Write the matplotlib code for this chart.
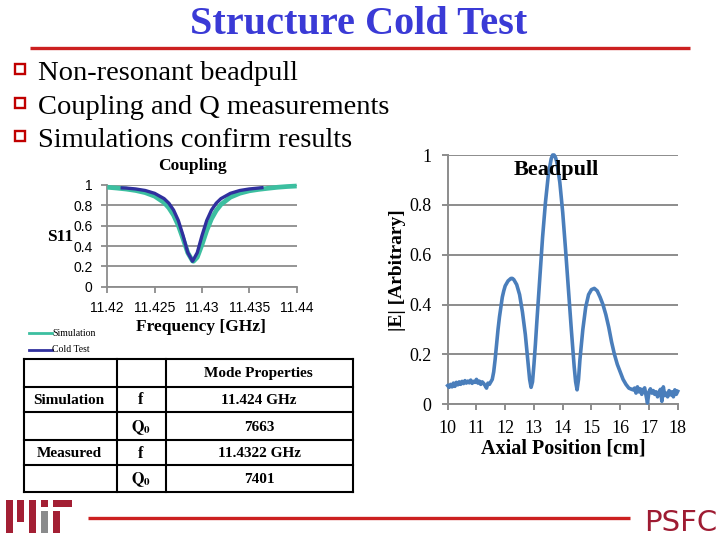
import numpy as np
import matplotlib
matplotlib.use("Agg")
import matplotlib.pyplot as plt
from matplotlib.lines import Line2D
from matplotlib.patches import Rectangle

plt.rcParams['mathtext.fontset'] = 'stix'

# ---------------- data ----------------
title = "Structure Cold Test"
bullets = ["Non-resonant beadpull", "Coupling and Q measurements", "Simulations confirm results"]

# Coupling (S11 vs frequency)
sim_freq = [11.420, 11.421, 11.422, 11.423, 11.424, 11.425, 11.426, 11.4265, 11.427, 11.4275,
            11.428, 11.4285, 11.429, 11.4291, 11.4295, 11.430, 11.4305, 11.431, 11.4315, 11.432,
            11.433, 11.434, 11.435, 11.436, 11.437, 11.438, 11.439, 11.440]
sim_s11 = [0.978, 0.970, 0.960, 0.946, 0.925, 0.890, 0.827, 0.775, 0.703, 0.602,
           0.471, 0.333, 0.253, 0.250, 0.289, 0.414, 0.553, 0.667, 0.749, 0.808,
           0.880, 0.919, 0.943, 0.957, 0.968, 0.978, 0.985, 0.990]
cold_freq = [11.4214, 11.422, 11.423, 11.424, 11.425, 11.426, 11.4265, 11.427, 11.4275, 11.428,
             11.4285, 11.429, 11.4295, 11.430, 11.4305, 11.431, 11.4315, 11.432, 11.433, 11.434,
             11.435, 11.4365]
cold_s11 = [0.972, 0.970, 0.961, 0.946, 0.918, 0.866, 0.821, 0.753, 0.651, 0.503,
            0.335, 0.250, 0.335, 0.503, 0.651, 0.753, 0.821, 0.866, 0.918, 0.946,
            0.961, 0.975]
freq_ticks = [11.42, 11.425, 11.43, 11.435, 11.44]
freq_tick_labels = ["11.42", "11.425", "11.43", "11.435", "11.44"]
s11_ticks = [0, 0.2, 0.4, 0.6, 0.8, 1.0]
s11_tick_labels = ["0", "0.2", "0.4", "0.6", "0.8", "1"]
legend_labels = ["Simulation", "Cold Test"]

# Beadpull (|E| vs axial position)
pos_cm = [10.00, 10.05, 10.10, 10.15, 10.20, 10.25, 10.30, 10.35, 10.40, 10.45,
          10.50, 10.55, 10.60, 10.65, 10.70, 10.75, 10.80, 10.85, 10.90, 10.95,
          11.00, 11.05, 11.10, 11.15, 11.20, 11.25, 11.30, 11.35, 11.40, 11.45,
          11.50, 11.55, 11.60, 11.65, 11.70, 11.75, 11.80, 11.85, 11.90, 11.95,
          12.00, 12.10, 12.20, 12.25, 12.30, 12.40, 12.50, 12.60, 12.70, 12.75,
          12.80, 12.85, 12.90, 12.95, 13.00, 13.05, 13.10, 13.20, 13.30, 13.40,
          13.50, 13.60, 13.65, 13.70, 13.75, 13.80, 13.90, 14.00, 14.10, 14.20,
          14.30, 14.40, 14.45, 14.50, 14.55, 14.60, 14.70, 14.80, 14.90, 15.00,
          15.10, 15.20, 15.30, 15.40, 15.50, 15.60, 15.70, 15.80, 15.90, 16.00,
          16.10, 16.20, 16.30, 16.40, 16.45, 16.50, 16.55, 16.60, 16.65, 16.70,
          16.75, 16.80, 16.85, 16.90, 16.95, 17.00, 17.05, 17.10, 17.15, 17.20,
          17.25, 17.30, 17.35, 17.40, 17.45, 17.50, 17.55, 17.60, 17.65, 17.70,
          17.75, 17.80, 17.85, 17.90, 17.95, 18.00]
e_field = [0.075, 0.068, 0.080, 0.070, 0.085, 0.072, 0.088, 0.078, 0.090, 0.080,
           0.092, 0.083, 0.095, 0.085, 0.093, 0.086, 0.097, 0.084, 0.092, 0.088,
           0.100, 0.085, 0.093, 0.080, 0.090, 0.084, 0.075, 0.065, 0.085, 0.080,
           0.090, 0.100, 0.130, 0.180, 0.240, 0.300, 0.350, 0.390, 0.430, 0.455,
           0.475, 0.495, 0.505, 0.505, 0.500, 0.480, 0.440, 0.370, 0.280, 0.220,
           0.160, 0.100, 0.068, 0.090, 0.160, 0.240, 0.330, 0.500, 0.670, 0.810,
           0.920, 0.985, 1.000, 1.000, 0.990, 0.970, 0.890, 0.770, 0.620, 0.460,
           0.300, 0.150, 0.090, 0.058, 0.100, 0.180, 0.300, 0.390, 0.440, 0.460,
           0.465, 0.455, 0.430, 0.400, 0.360, 0.310, 0.250, 0.200, 0.160, 0.130,
           0.100, 0.080, 0.065, 0.060, 0.058, 0.065, 0.045, 0.070, 0.050, 0.062,
           0.040, 0.058, 0.066, 0.035, 0.005, 0.050, 0.062, 0.045, 0.055, 0.040,
           0.050, 0.030, 0.048, 0.060, 0.012, 0.070, 0.035, 0.045, 0.030, 0.055,
           0.038, 0.050, 0.030, 0.058, 0.040, 0.052]
pos_ticks = [10, 11, 12, 13, 14, 15, 16, 17, 18]
e_ticks = [0, 0.2, 0.4, 0.6, 0.8, 1.0]
e_tick_labels = ["0", "0.2", "0.4", "0.6", "0.8", "1"]

# Mode properties table
table_header = "Mode Properties"
table_col0 = ["Simulation", "", "Measured", ""]
table_col1 = ["f", r"$\mathbf{Q_0}$", "f", r"$\mathbf{Q_0}$"]
table_col2 = ["11.424 GHz", "7663", "11.4322 GHz", "7401"]

# ---------------- figure ----------------
W, H = 720, 540
fig = plt.figure(figsize=(7.2, 5.4), dpi=100)
fig.patch.set_facecolor('white')

def fx(px):
    return px / W

def fy(py):
    return 1 - py / H

SERIF = ['Liberation Serif', 'DejaVu Serif']
SANS = ['Liberation Sans', 'DejaVu Sans']
GRAY = '#8c8c8c'

def fline(x0, x1, y0, y1, **kw):
    fig.add_artist(Line2D([fx(x0), fx(x1)], [fy(y0), fy(y1)], transform=fig.transFigure, **kw))

# Title
fig.text(fx(359), fy(34), title, ha='center', va='baseline', fontsize=29,
         fontweight='bold', family=SERIF, color='#3a3ad6')
fline(30, 690, 48, 48, color='#cc2020', lw=2.4, solid_capstyle='butt')

# Bullets
for i, b in enumerate(bullets):
    yc = [69, 102.5, 136][i]
    fig.add_artist(Rectangle((fx(14.5), fy(yc + 5)), 10.5 / W, 10 / H, transform=fig.transFigure,
                             fill=False, edgecolor='#c00000', lw=1.7))
    fig.text(fx(38), fy(yc + 11), b, ha='left', va='baseline', fontsize=20.5,
             family=SERIF, color='black')

# ---------------- Coupling chart ----------------
ax1 = fig.add_axes([fx(107.3), fy(286.7), (296.7 - 107.3) / W, (286.7 - 185) / H])
ax1.plot(sim_freq, sim_s11, color='#3cbfa0', lw=3.4, solid_capstyle='butt', zorder=3, clip_on=False)
ax1.plot(cold_freq, cold_s11, color='#30309e', lw=2.4, solid_capstyle='butt', zorder=4, clip_on=False)
ax1.set_xlim(11.42, 11.44)
ax1.set_ylim(0, 1)
ax1.set_xticks(freq_ticks)
ax1.set_xticklabels(freq_tick_labels, family=SANS, fontsize=10)
ax1.set_yticks(s11_ticks)
ax1.set_yticklabels(s11_tick_labels, family=SANS, fontsize=10)
ax1.yaxis.grid(True, color=GRAY, lw=1.3)
ax1.set_axisbelow(True)
for s in ['top', 'right']:
    ax1.spines[s].set_visible(False)
for s in ['left', 'bottom']:
    ax1.spines[s].set_color(GRAY)
    ax1.spines[s].set_linewidth(1.3)
ax1.tick_params(axis='both', color=GRAY, width=1.3, length=4.5, pad=6)
fig.text(fx(192), fy(166), "Coupling", ha='center', va='center', fontsize=12.5,
         fontweight='bold', family=SERIF)
fig.text(fx(47), fy(237), "S11", ha='left', va='center', fontsize=12.5,
         fontweight='bold', family=SERIF)
fig.text(fx(201), fy(327), "Frequency [GHz]", ha='center', va='center', fontsize=12.5,
         fontweight='bold', family=SERIF)
# legend
for yc, lab, col in [(333, legend_labels[0], '#3cbfa0'), (350, legend_labels[1], '#30309e')]:
    fline(29, 52, yc, yc, color=col, lw=2.0)
    fig.text(fx(52), fy(yc), lab, ha='left', va='center', fontsize=7, family=SERIF)

# ---------------- Table ----------------
col_x = [24, 116.7, 165.7, 353]
row_y = [359, 386.7, 412.3, 440, 465, 491.7]
for yv in row_y:
    fline(col_x[0], col_x[-1], yv, yv, color='black', lw=1.5)
for xv in col_x:
    fline(xv, xv, row_y[0], row_y[-1], color='black', lw=1.5)
fig.text(fx(258), fy(374), table_header, ha='center', va='center', fontsize=11,
         fontweight='bold', family=SERIF)
for i in range(4):
    yc = (row_y[i + 1] + row_y[i + 2]) / 2 + 1
    fig.text(fx(69), fy(yc), table_col0[i], ha='center', va='center', fontsize=11,
             fontweight='bold', family=SERIF)
    fig.text(fx(141), fy(yc), table_col1[i], ha='center', va='center', fontsize=11.5,
             fontweight='bold', family=SERIF)
    fig.text(fx(259), fy(yc), table_col2[i], ha='center', va='center', fontsize=11,
             fontweight='bold', family=SERIF)

# ---------------- Beadpull chart ----------------
ax2 = fig.add_axes([fx(447.7), fy(404.3), (677.7 - 447.7) / W, (404.3 - 155) / H])
ax2.plot(pos_cm, e_field, color='#4a7ebb', lw=2.6, zorder=3, clip_on=False)
ax2.set_xlim(10, 18)
ax2.set_ylim(0, 1)
ax2.set_xticks(pos_ticks)
ax2.set_xticklabels([str(t) for t in pos_ticks], family=SERIF, fontsize=13)
ax2.set_yticks(e_ticks)
ax2.set_yticklabels(e_tick_labels, family=SERIF, fontsize=13)
ax2.yaxis.grid(True, color=GRAY, lw=1.4)
ax2.set_axisbelow(True)
for s in ['top', 'right']:
    ax2.spines[s].set_visible(False)
for s in ['left', 'bottom']:
    ax2.spines[s].set_color(GRAY)
    ax2.spines[s].set_linewidth(1.4)
ax2.tick_params(axis='both', color=GRAY, width=1.4, length=4.5, pad=7)
fig.text(fx(556), fy(170), "Beadpull", ha='center', va='center', fontsize=16,
         fontweight='bold', family=SERIF)
fig.text(fx(398), fy(270), "|E| [Arbitrary]", ha='center', va='center', fontsize=14,
         fontweight='bold', family=SERIF, rotation=90)
fig.text(fx(563), fy(449), "Axial Position [cm]", ha='center', va='center', fontsize=14.5,
         fontweight='bold', family=SERIF)

# ---------------- Footer ----------------
MITRED = '#a31f34'
MITGRAY = '#8a8b8c'
def frect(x0, y0, x1, y1, color):
    fig.add_artist(Rectangle((fx(x0), fy(y1)), (x1 - x0) / W, (y1 - y0) / H,
                             transform=fig.transFigure, color=color, lw=0))
frect(6, 500, 13.3, 533.3, MITRED)
frect(17.3, 500, 24.3, 522.3, MITRED)
frect(29, 500, 36, 533.3, MITRED)
frect(40.7, 500, 47.7, 506.7, MITRED)
frect(40.7, 510.7, 47.7, 533.3, MITGRAY)
frect(53.3, 500, 72, 506.7, MITRED)
frect(53.3, 510.7, 60.3, 533.3, MITRED)
fline(88, 630, 518, 518, color='#cc2020', lw=2.4, solid_capstyle='butt')
fig.text(fx(681), fy(531), "PSFC", ha='center', va='baseline', fontsize=21,
         family=['DejaVu Sans'], color='#9e1b32')

fig.savefig('out.png', dpi=100)
